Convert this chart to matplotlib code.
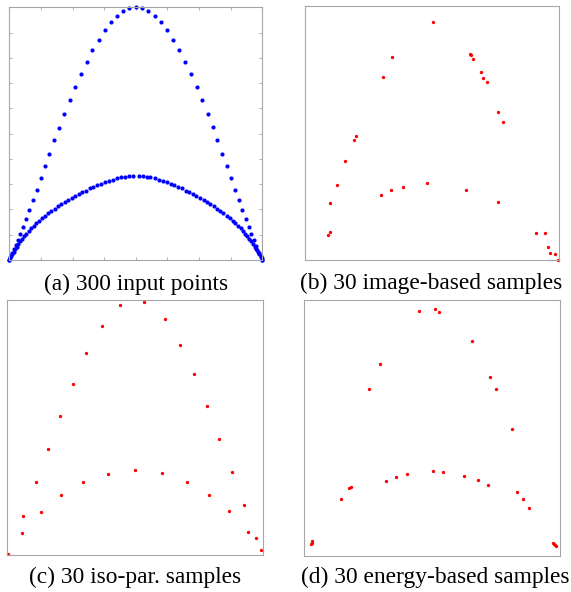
import numpy as np
import matplotlib.pyplot as plt

# (a) input points, outer and inner curves (normalised units)
outer_x = [0.000, 0.003, 0.009, 0.020, 0.026, 0.033, 0.042, 0.054, 0.066, 0.078,
           0.092, 0.108, 0.124, 0.141, 0.158, 0.178, 0.198, 0.217, 0.239, 0.260,
           0.283, 0.306, 0.328, 0.353, 0.377, 0.401, 0.426, 0.449, 0.474, 0.501,
           0.525, 0.549, 0.575, 0.600, 0.625, 0.648, 0.672, 0.694, 0.718, 0.741,
           0.763, 0.784, 0.804, 0.821, 0.841, 0.859, 0.876, 0.892, 0.908, 0.921,
           0.934, 0.946, 0.957, 0.966, 0.974, 0.980, 0.987, 0.993, 1.000]
outer_y = [0.000, 0.013, 0.029, 0.045, 0.059, 0.078, 0.103, 0.130, 0.162, 0.198,
           0.236, 0.278, 0.324, 0.372, 0.420, 0.473, 0.524, 0.578, 0.632, 0.685,
           0.736, 0.785, 0.831, 0.872, 0.910, 0.941, 0.966, 0.984, 0.997, 1.000,
           0.998, 0.984, 0.967, 0.941, 0.910, 0.872, 0.831, 0.785, 0.736, 0.685,
           0.632, 0.578, 0.526, 0.473, 0.420, 0.372, 0.324, 0.278, 0.236, 0.198,
           0.162, 0.132, 0.103, 0.078, 0.055, 0.040, 0.026, 0.013, 0.000]

inner_x = [0.000, 0.003, 0.007, 0.012, 0.017, 0.023, 0.029, 0.036, 0.044, 0.052,
           0.059, 0.067, 0.077, 0.086, 0.096, 0.107, 0.117, 0.129, 0.141, 0.154,
           0.166, 0.179, 0.192, 0.206, 0.219, 0.232, 0.247, 0.261, 0.274, 0.289,
           0.303, 0.318, 0.332, 0.348, 0.362, 0.378, 0.394, 0.410, 0.426, 0.442,
           0.457, 0.473, 0.489, 0.511, 0.527, 0.543, 0.558, 0.574, 0.590, 0.606,
           0.622, 0.638, 0.652, 0.668, 0.682, 0.697, 0.711, 0.726, 0.739, 0.753,
           0.768, 0.781, 0.794, 0.808, 0.821, 0.834, 0.846, 0.859, 0.871, 0.883,
           0.893, 0.904, 0.914, 0.923, 0.933, 0.941, 0.948, 0.956, 0.964, 0.971,
           0.977, 0.983, 0.988, 0.993, 0.997, 1.000]
inner_y = [0.000, 0.007, 0.016, 0.025, 0.033, 0.042, 0.053, 0.063, 0.074, 0.084,
           0.095, 0.104, 0.115, 0.125, 0.135, 0.146, 0.155, 0.165, 0.175, 0.185,
           0.194, 0.203, 0.212, 0.221, 0.229, 0.237, 0.245, 0.253, 0.261, 0.268,
           0.275, 0.283, 0.289, 0.296, 0.302, 0.308, 0.313, 0.318, 0.323, 0.327,
           0.330, 0.332, 0.333, 0.333, 0.332, 0.330, 0.327, 0.323, 0.318, 0.313,
           0.308, 0.302, 0.296, 0.289, 0.283, 0.275, 0.268, 0.261, 0.253, 0.245,
           0.237, 0.229, 0.221, 0.212, 0.203, 0.194, 0.185, 0.175, 0.165, 0.155,
           0.146, 0.135, 0.125, 0.115, 0.104, 0.095, 0.084, 0.074, 0.063, 0.053,
           0.042, 0.033, 0.025, 0.016, 0.007, 0.000]

# (b) image-based samples
img_x = [0.503, 0.342, 0.305, 0.647, 0.653, 0.659, 0.692, 0.699, 0.714, 0.760,
         0.780, 0.202, 0.191, 0.159, 0.127, 0.100, 0.100, 0.089, 0.299, 0.339,
         0.384, 0.478, 0.633, 0.758, 0.910, 0.945, 0.955, 0.965, 0.984, 0.993]
img_y = [0.938, 0.798, 0.720, 0.812, 0.807, 0.790, 0.739, 0.718, 0.701, 0.583,
         0.543, 0.487, 0.471, 0.390, 0.295, 0.226, 0.112, 0.097, 0.256, 0.276,
         0.287, 0.303, 0.277, 0.227, 0.108, 0.108, 0.050, 0.028, 0.022, 0.000]

# (c) iso-parameter samples
iso_x = [0.004, 0.059, 0.063, 0.111, 0.130, 0.159, 0.206, 0.211, 0.255, 0.297,
         0.309, 0.368, 0.392, 0.440, 0.499, 0.535, 0.605, 0.615, 0.676, 0.702,
         0.730, 0.781, 0.789, 0.828, 0.868, 0.876, 0.923, 0.940, 0.971, 0.992]
iso_y = [0.003, 0.086, 0.153, 0.285, 0.169, 0.416, 0.545, 0.234, 0.671, 0.285,
         0.791, 0.898, 0.319, 0.979, 0.332, 0.993, 0.320, 0.925, 0.825, 0.288,
         0.710, 0.584, 0.237, 0.456, 0.171, 0.324, 0.195, 0.089, 0.065, 0.021]

# (d) energy-based samples
en_x = [0.025, 0.029, 0.031, 0.142, 0.173, 0.184, 0.252, 0.296, 0.318, 0.359,
        0.400, 0.450, 0.502, 0.512, 0.525, 0.544, 0.623, 0.657, 0.678, 0.718,
        0.728, 0.750, 0.814, 0.833, 0.855, 0.877, 0.974, 0.977, 0.979, 0.983]
en_y = [0.046, 0.051, 0.056, 0.220, 0.263, 0.269, 0.651, 0.748, 0.292, 0.308,
        0.318, 0.957, 0.330, 0.965, 0.954, 0.327, 0.313, 0.840, 0.295, 0.278,
        0.700, 0.651, 0.497, 0.249, 0.222, 0.188, 0.051, 0.047, 0.043, 0.038]

captions = ['(a) 300 input points', '(b) 30 image-based samples',
            '(c) 30 iso-par. samples', '(d) 30 energy-based samples']

fig = plt.figure(figsize=(5.71, 5.92), dpi=100)
frame_col = '#a6a6a6'

boxes = [[0.0163, 0.5608, 0.4431, 0.4269],
         [0.5342, 0.5608, 0.4454, 0.4291],
         [0.0128, 0.0625, 0.4483, 0.4307],
         [0.5329, 0.0613, 0.4478, 0.4319]]
axs = [fig.add_axes(b) for b in boxes]

axs[0].plot(outer_x, outer_y, 'o', color='#0000ff', ms=3.0, mew=0, clip_on=False)
axs[0].plot(inner_x, inner_y, 'o', color='#0000ff', ms=3.0, mew=0, clip_on=False)
axs[1].plot(img_x, img_y, 'o', color='#ff0000', ms=2.4, mew=0, clip_on=False)
axs[2].plot(iso_x, iso_y, 'o', color='#ff0000', ms=2.4, mew=0, clip_on=False)
axs[3].plot(en_x, en_y, 'o', color='#ff0000', ms=2.4, mew=0, clip_on=False)

for i, ax in enumerate(axs):
    ax.set_xlim(0, 1)
    ax.set_ylim(0, 1)
    for s in ax.spines.values():
        s.set_color(frame_col)
        s.set_linewidth(0.8)
    if i == 0:
        ax.set_xticks(np.arange(0, 1.001, 0.125))
        ax.set_yticks(np.arange(0, 1.001, 0.1))
        ax.tick_params(direction='in', length=2.2, width=0.6, color=frame_col,
                       top=True, right=True, labelbottom=False, labelleft=False)
    else:
        ax.set_xticks([])
        ax.set_yticks([])

cap_pos = [(0.2378, 0.5106), (0.7545, 0.5113), (0.2373, 0.0157), (0.7618, 0.0147)]
for (cx, cy), txt in zip(cap_pos, captions):
    fig.text(cx, cy, txt, ha='center', va='baseline', fontsize=16.8,
             family='Liberation Serif')

fig.savefig('out.png', dpi=100)
